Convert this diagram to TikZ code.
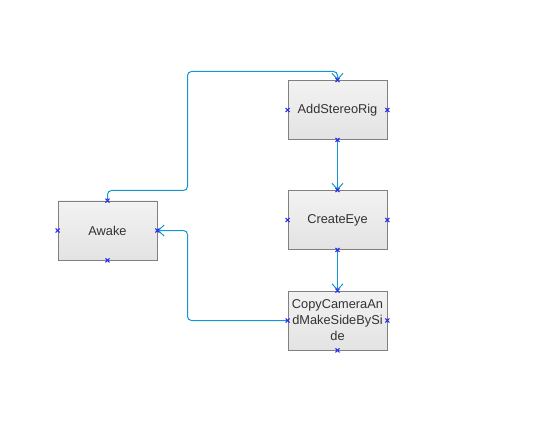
\documentclass[tikz,border=0pt]{standalone}
\usepackage{fontspec}
\setmainfont{Liberation Sans}
\usetikzlibrary{arrows.meta,calc}
\definecolor{connc}{RGB}{20,150,210}
\definecolor{markc}{RGB}{40,40,240}
\definecolor{boxborder}{RGB}{128,128,128}
\definecolor{txtc}{RGB}{50,50,50}
\tikzset{
  box/.style={draw=boxborder, line width=0.9pt, top color=white!95!black, bottom color=white!89!black,
    minimum width=99pt, minimum height=59pt, inner sep=0pt, text=txtc,
    font=\fontsize{12.8}{16}\selectfont, align=center},
  conn/.style={draw=connc, line width=1pt, rounded corners=4pt,
    -{Straight Barb[length=6pt,width=11pt,line width=1pt]}},
  portmark/.style={draw=markc, line width=1pt}
}
\begin{document}
\begin{tikzpicture}[x=1pt,y=-1pt]
\useasboundingbox (0,0) rectangle (552,425);
\node[box] (awake) at (107.5,230.5) {Awake};
\node[box] (add) at (337.5,110) {AddStereoRig};
\node[box] (eye) at (337.5,220) {CreateEye};
\node[box] (copy) at (337.5,320.5) {CopyCameraAn\\dMakeSideBySi\\de};
\coordinate (k1) at (187.5,190.5);
\coordinate (k2) at (187.5,71.5);
\coordinate (k3) at (187.5,230.5);
\draw[conn] (awake.north) -- (awake.north |- k1) -- (k1) -- (k2) -- (add.north |- k2) -- (add.north);
\draw[conn] (add.south) -- (eye.north);
\draw[conn] (eye.south) -- (copy.north);
\draw[conn] (copy.west) -- (copy.west -| k3) -- (k3) -- (awake.east);
\foreach \n in {awake,add,eye,copy}{
  \foreach \a in {north,south,east,west}{
    \draw[portmark] (\n.\a) ++(-2,-2) -- ++(4,4) ++(-4,0) -- ++(4,-4);
  }
}
\end{tikzpicture}
\end{document}
